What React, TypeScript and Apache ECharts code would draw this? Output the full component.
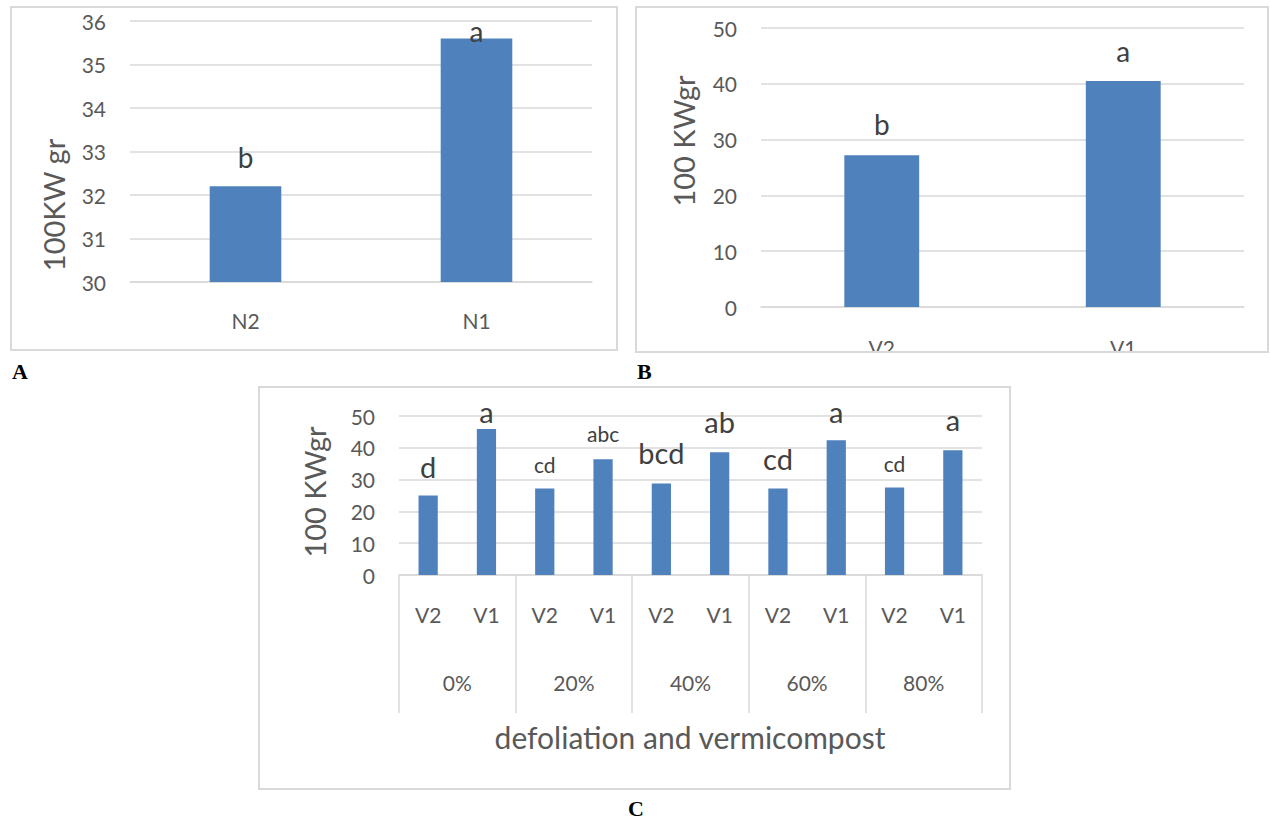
import React, { useEffect, useRef } from "react";
import * as echarts from "echarts";

// ---- Data ----
const aCategories = ["N2", "N1"];
const aValues = [32.2, 35.6];
const aLetters = ["b", "a"];

const bCategories = ["V2", "V1"];
const bValues = [27.2, 40.5];
const bLetters = ["b", "a"];

const cSubCategories = ["V2", "V1", "V2", "V1", "V2", "V1", "V2", "V1", "V2", "V1"];
const cGroups = ["0%", "20%", "40%", "60%", "80%"];
const cValues = [25.0, 45.9, 27.2, 36.4, 28.8, 38.6, 27.2, 42.4, 27.5, 39.2];
const cLetters = ["d", "a", "cd", "abc", "bcd", "ab", "cd", "a", "cd", "a"];

const aTitle = "100KW gr";
const bTitle = "100 KWgr";
const cTitle = "100 KWgr";
const cXTitle = "defoliation and vermicompost";

// ---- Styles (label sizes / gaps) ----
const aLetterGap = [15, -7];
const bLetterGap = [17, 16];
const cLetterSize = [29, 29, 21, 21, 29, 29, 29, 29, 21, 29];
const cLetterGap = [15, 3, 14, 15, 16, 16, 16, 14, 14, 16];

const FONT = "Lato";
const TXT = "#595959";
const GRID = "#d9d9d9";
const BAR = "#4f81bd";
const LET = "#404040";

function letterData(values: number[], letters: string[], gaps: number[], sizes?: number[]) {
  return values.map((v, i) => ({
    value: v,
    label: {
      show: true,
      position: "top",
      distance: gaps[i],
      formatter: letters[i],
      fontSize: sizes ? sizes[i] : 28,
      fontFamily: FONT,
      color: LET,
    },
  }));
}

const yAxisBase = (grid: number, min: number, max: number, interval: number) => ({
  type: "value",
  gridIndex: grid,
  min,
  max,
  interval,
  axisLine: { show: false },
  axisTick: { show: false },
  splitLine: { lineStyle: { color: GRID, width: 1.5 } },
  axisLabel: { fontSize: 21, fontFamily: FONT, color: TXT, margin: 24 },
});

export default function App() {
  const ref = useRef<HTMLDivElement>(null);
  useEffect(() => {
    if (!ref.current) return;
    const chart = echarts.init(ref.current, undefined, { renderer: "svg" });
    const option: any = {
      animation: false,
      backgroundColor: "#ffffff",
      grid: [
        { left: 130, right: 1270 - 592, top: 21, bottom: 822 - 282 },
        { left: 761, right: 1270 - 1244, top: 28, bottom: 822 - 307 },
        { left: 399, right: 1270 - 982, top: 416, bottom: 822 - 575 },
      ],
      xAxis: [
        {
          type: "category",
          gridIndex: 0,
          data: aCategories,
          axisLine: { lineStyle: { color: GRID, width: 1.5 } },
          axisTick: { show: false },
          axisLabel: { fontSize: 21, fontFamily: FONT, color: TXT, margin: 28 },
        },
        {
          type: "category",
          gridIndex: 1,
          data: bCategories,
          axisLine: { lineStyle: { color: GRID, width: 1.5 } },
          axisTick: { show: false },
          axisLabel: { fontSize: 21, fontFamily: FONT, color: TXT, margin: 30 },
        },
        {
          type: "category",
          gridIndex: 2,
          position: "bottom",
          data: cSubCategories,
          axisLine: { lineStyle: { color: GRID, width: 1.5 } },
          axisTick: { show: false },
          axisLabel: { fontSize: 21, fontFamily: FONT, color: TXT, margin: 29, interval: 0 },
        },
        {
          type: "category",
          gridIndex: 2,
          position: "bottom",
          data: cGroups,
          axisLine: { show: false },
          axisTick: { show: true, length: 138, interval: 0, lineStyle: { color: GRID, width: 1.5 } },
          axisLabel: { fontSize: 21, fontFamily: FONT, color: TXT, margin: 97, interval: 0 },
        },
      ],
      yAxis: [yAxisBase(0, 30, 36, 1), yAxisBase(1, 0, 50, 10), yAxisBase(2, 0, 50, 10)],
      series: [
        {
          type: "bar",
          xAxisIndex: 0,
          yAxisIndex: 0,
          barWidth: "31%",
          itemStyle: { color: BAR },
          data: letterData(aValues, aLetters, aLetterGap),
        },
        {
          type: "bar",
          xAxisIndex: 1,
          yAxisIndex: 1,
          barWidth: "31%",
          itemStyle: { color: BAR },
          data: letterData(bValues, bLetters, bLetterGap),
        },
        {
          type: "bar",
          xAxisIndex: 2,
          yAxisIndex: 2,
          barWidth: "33%",
          itemStyle: { color: BAR },
          data: letterData(cValues, cLetters, cLetterGap, cLetterSize),
        },
      ],
      graphic: [
        // mask to clip B's category labels at its frame
        { type: "rect", z: 100, shape: { x: 636, y: 351, width: 634, height: 10 }, style: { fill: "#ffffff" } },
        // frames
        { type: "rect", z: 101, shape: { x: 11, y: 7, width: 606, height: 343 }, style: { fill: "none", stroke: GRID, lineWidth: 2 } },
        { type: "rect", z: 101, shape: { x: 636, y: 7, width: 632, height: 345 }, style: { fill: "none", stroke: GRID, lineWidth: 2 } },
        { type: "rect", z: 101, shape: { x: 259, y: 387, width: 751, height: 402 }, style: { fill: "none", stroke: GRID, lineWidth: 2 } },
        // axis titles
        { type: "text", z: 102, x: 53, y: 205, rotation: Math.PI / 2, style: { text: aTitle, font: `29px ${FONT}`, fill: TXT, align: "center", verticalAlign: "middle" } },
        { type: "text", z: 102, x: 683, y: 141, rotation: Math.PI / 2, style: { text: bTitle, font: `29px ${FONT}`, fill: TXT, align: "center", verticalAlign: "middle" } },
        { type: "text", z: 102, x: 314, y: 492, rotation: Math.PI / 2, style: { text: cTitle, font: `29px ${FONT}`, fill: TXT, align: "center", verticalAlign: "middle" } },
        { type: "text", z: 102, x: 690, y: 737, style: { text: cXTitle, font: `30px ${FONT}`, fill: TXT, align: "center", verticalAlign: "middle" } },
        // panel letters
        { type: "text", z: 102, x: 12, y: 371, style: { text: "A", font: `bold 22px "Liberation Serif"`, fill: "#000", align: "left", verticalAlign: "middle" } },
        { type: "text", z: 102, x: 637, y: 371, style: { text: "B", font: `bold 22px "Liberation Serif"`, fill: "#000", align: "left", verticalAlign: "middle" } },
        { type: "text", z: 102, x: 636, y: 808, style: { text: "C", font: `bold 22px "Liberation Serif"`, fill: "#000", align: "center", verticalAlign: "middle" } },
      ],
    };
    chart.setOption(option);
    return () => chart.dispose();
  }, []);
  return <div ref={ref} style={{ position: "absolute", left: 0, top: 0, width: 1270, height: 822 }} />;
}
